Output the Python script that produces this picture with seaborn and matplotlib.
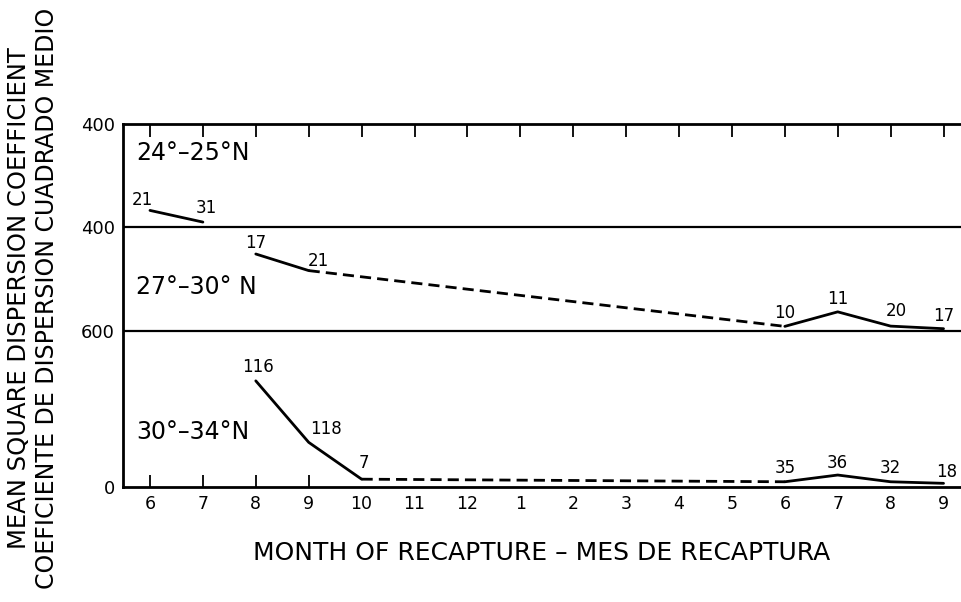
import matplotlib
matplotlib.use("Agg")
import matplotlib.pyplot as plt
import seaborn as sns
import pandas as pd

# Month of recapture along the x-axis (June of year 1 through September of year 2)
months = [6, 7, 8, 9, 10, 11, 12, 1, 2, 3, 4, 5, 6, 7, 8, 9]

# 30°-34°N band: mean square dispersion coefficient and number of returns
south_idx = [2, 3, 4, 12, 13, 14, 15]
south_msd = [408, 171, 29, 19, 45, 19, 13]
south_n = [116, 118, 7, 35, 36, 32, 18]

# 27°-30°N band
mid_idx = [2, 3, 12, 13, 14, 15]
mid_msd = [297, 233, 18, 74, 19, 9]
mid_n = [17, 21, 10, 11, 20, 17]

# 24°-25°N band
north_idx = [0, 1]
north_msd = [65, 20]
north_n = [21, 31]

# y-axis tick values and the labels printed for each stacked band
ytick_vals = [0, 600, 1000, 1400]
ytick_labels = ["0", "600", "400", "400"]

sns.set_style("white")
plt.rcParams["font.family"] = ["DejaVu Sans"]
plt.rcParams["text.color"] = "black"
plt.rcParams["xtick.color"] = "black"
plt.rcParams["ytick.color"] = "black"
plt.rcParams["axes.labelcolor"] = "black"

fig = plt.figure(figsize=(9.61, 6.02), dpi=100)
W, H = 961, 602
ax = fig.add_axes([123 / W, 1 - 486.7 / H, 1 - 123 / W, (486.7 - 123.5) / H])

bands = [
    # (indices, values, counts, baseline, runs of (start, stop, style), label offsets in px)
    (south_idx, south_msd, south_n, 0,
     [(0, 3, "-"), (2, 4, "--"), (3, 7, "-")],
     [(2, 14), (17, 13), (2, 16), (0, 14), (0, 12), (0, 14), (3, 11)]),
    (mid_idx, mid_msd, mid_n, 600,
     [(0, 2, "-"), (1, 3, "--"), (2, 6, "-")],
     [(0, 11), (10, 10), (0, 13), (0, 13), (6, 15), (0, 13)]),
    (north_idx, north_msd, north_n, 1000,
     [(0, 2, "-")],
     [(-8, 10), (3, 14)]),
]

for idx, vals, counts, base, runs, offs in bands:
    df = pd.DataFrame({"x": idx, "y": [v + base for v in vals]})
    for a, b, style in runs:
        seg = df.iloc[a:b]
        sns.lineplot(data=seg, x="x", y="y", ax=ax, color="black",
                     linewidth=2.0, linestyle=style, estimator=None, sort=False,
                     dashes=False)
        if style == "--":
            ax.lines[-1].set_dashes((4, 2.2))
    for (xi, yi), n, (dx, dy) in zip(df.itertuples(index=False), counts, offs):
        ax.annotate(str(n), (xi, yi), xytext=(dx, dy), textcoords="offset pixels",
                    ha="center", va="center", fontsize=12, color="black")

# band separators
ax.axhline(600, color="black", linewidth=1.6)
ax.axhline(1000, color="black", linewidth=1.6)

# band titles
title_x = -0.26
ax.text(title_x, 1286, "24°–25°N", fontsize=17, ha="left", va="center")
ax.text(title_x, 770, "27°–30° N", fontsize=17, ha="left", va="center")
ax.text(title_x, 211, "30°–34°N", fontsize=17, ha="left", va="center")

ax.set_xlim(-0.51, 15.33)
ax.set_ylim(0, 1400)

ax.set_xticks(range(len(months)))
ax.set_xticklabels([str(m) for m in months], fontsize=12.5)
ax.set_yticks(ytick_vals)
ax.set_yticklabels(ytick_labels, fontsize=13)

ax.tick_params(axis="x", which="major", direction="in", top=True, bottom=True,
               length=9, width=1.3, color="black", pad=6)
ax.tick_params(axis="y", length=0, pad=6)
for t in ax.xaxis.get_major_ticks()[4:]:
    t.tick1line.set_visible(False)

for side in ["left", "bottom", "top"]:
    ax.spines[side].set_visible(True)
    ax.spines[side].set_linewidth(2.0)
    ax.spines[side].set_color("black")
ax.spines["right"].set_visible(False)

ax.set_xlabel("MONTH OF RECAPTURE – MES DE RECAPTURA", fontsize=18, labelpad=20)
ax.set_ylabel("")

fig.text(19 / W, 0.505, "MEAN SQUARE DISPERSION COEFFICIENT", rotation=90,
         ha="center", va="center", fontsize=17.5)
fig.text(47 / W, 0.505, "COEFICIENTE DE DISPERSION CUADRADO MEDIO", rotation=90,
         ha="center", va="center", fontsize=17)

fig.savefig("out.png", dpi=100)
